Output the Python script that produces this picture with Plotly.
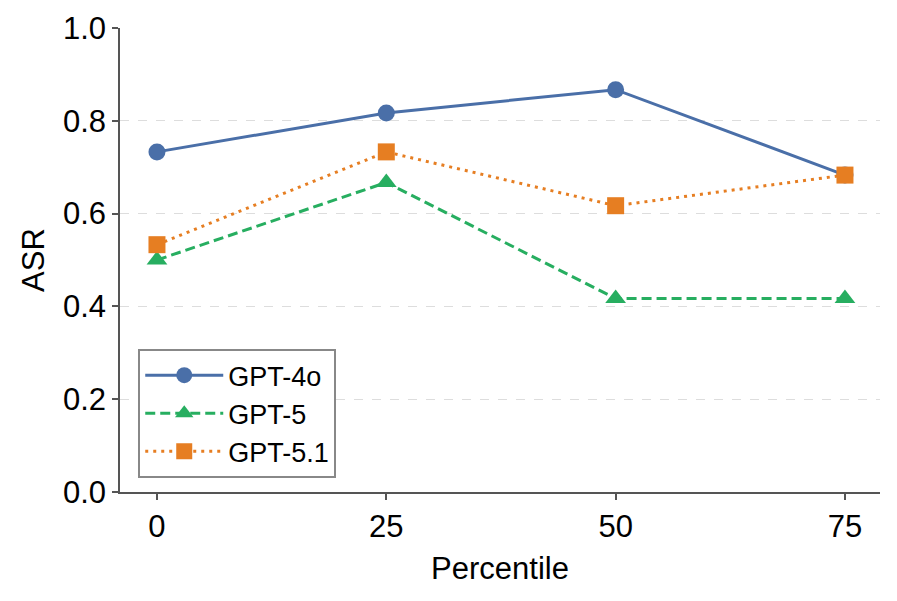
import plotly.graph_objects as go

percentiles = [0, 25, 50, 75]
series_names = ["GPT-4o", "GPT-5", "GPT-5.1"]
gpt4o = [0.733, 0.817, 0.867, 0.683]
gpt5 = [0.500, 0.667, 0.417, 0.417]
gpt51 = [0.533, 0.733, 0.617, 0.683]
y_ticks = [0.0, 0.2, 0.4, 0.6, 0.8, 1.0]

colors = ["#4A6FA8", "#27AE60", "#E67E22"]
symbols = ["circle", "triangle-up", "square"]
dashes = ["solid", "10px,5px", "3px,5px"]

fig = go.Figure()
for name, vals, c, s, d in zip(series_names, [gpt4o, gpt5, gpt51], colors, symbols, dashes):
    fig.add_trace(go.Scatter(
        x=percentiles, y=vals, name=name, mode="lines+markers",
        line=dict(color=c, width=3, dash=d),
        marker=dict(color=c, symbol=s, size=17 if s != "triangle-up" else 18, line=dict(width=0)),
    ))

font_family = "Liberation Sans, Arial, sans-serif"
fig.update_layout(
    width=897, height=601,
    margin=dict(l=112, r=25, t=20, b=117, autoexpand=False),
    paper_bgcolor="white", plot_bgcolor="white",
    font=dict(family=font_family, size=31, color="black"),
    showlegend=True,
    legend=dict(
        x=0.024, y=0.03, xanchor="left", yanchor="bottom",
        bordercolor="#888888", borderwidth=2, bgcolor="white",
        font=dict(size=27), tracegroupgap=0, itemwidth=78,
    ),
    xaxis=dict(
        range=[-4.03, 78.82], tickvals=percentiles, ticktext=[str(p) for p in percentiles],
        showgrid=False, zeroline=False, showline=True, linecolor="#555555", linewidth=1.5,
        ticks="outside", ticklen=6, tickwidth=1.5, tickcolor="#555555",
        tickfont=dict(size=31), automargin=False,
        title=dict(text="Percentile", font=dict(size=31), standoff=14),
    ),
    yaxis=dict(
        range=[0, 1], tickvals=y_ticks, ticktext=[f"{v:.1f}" for v in y_ticks],
        showgrid=True, gridcolor="#DDDDDD", gridwidth=1, griddash="dash",
        zeroline=False, showline=True, linecolor="#555555", linewidth=1.5,
        ticks="outside", ticklen=6, tickwidth=1.5, tickcolor="#555555",
        tickfont=dict(size=31), automargin=False,
        title=dict(text="ASR", font=dict(size=31), standoff=9),
    ),
)

fig.write_html("out.html")
